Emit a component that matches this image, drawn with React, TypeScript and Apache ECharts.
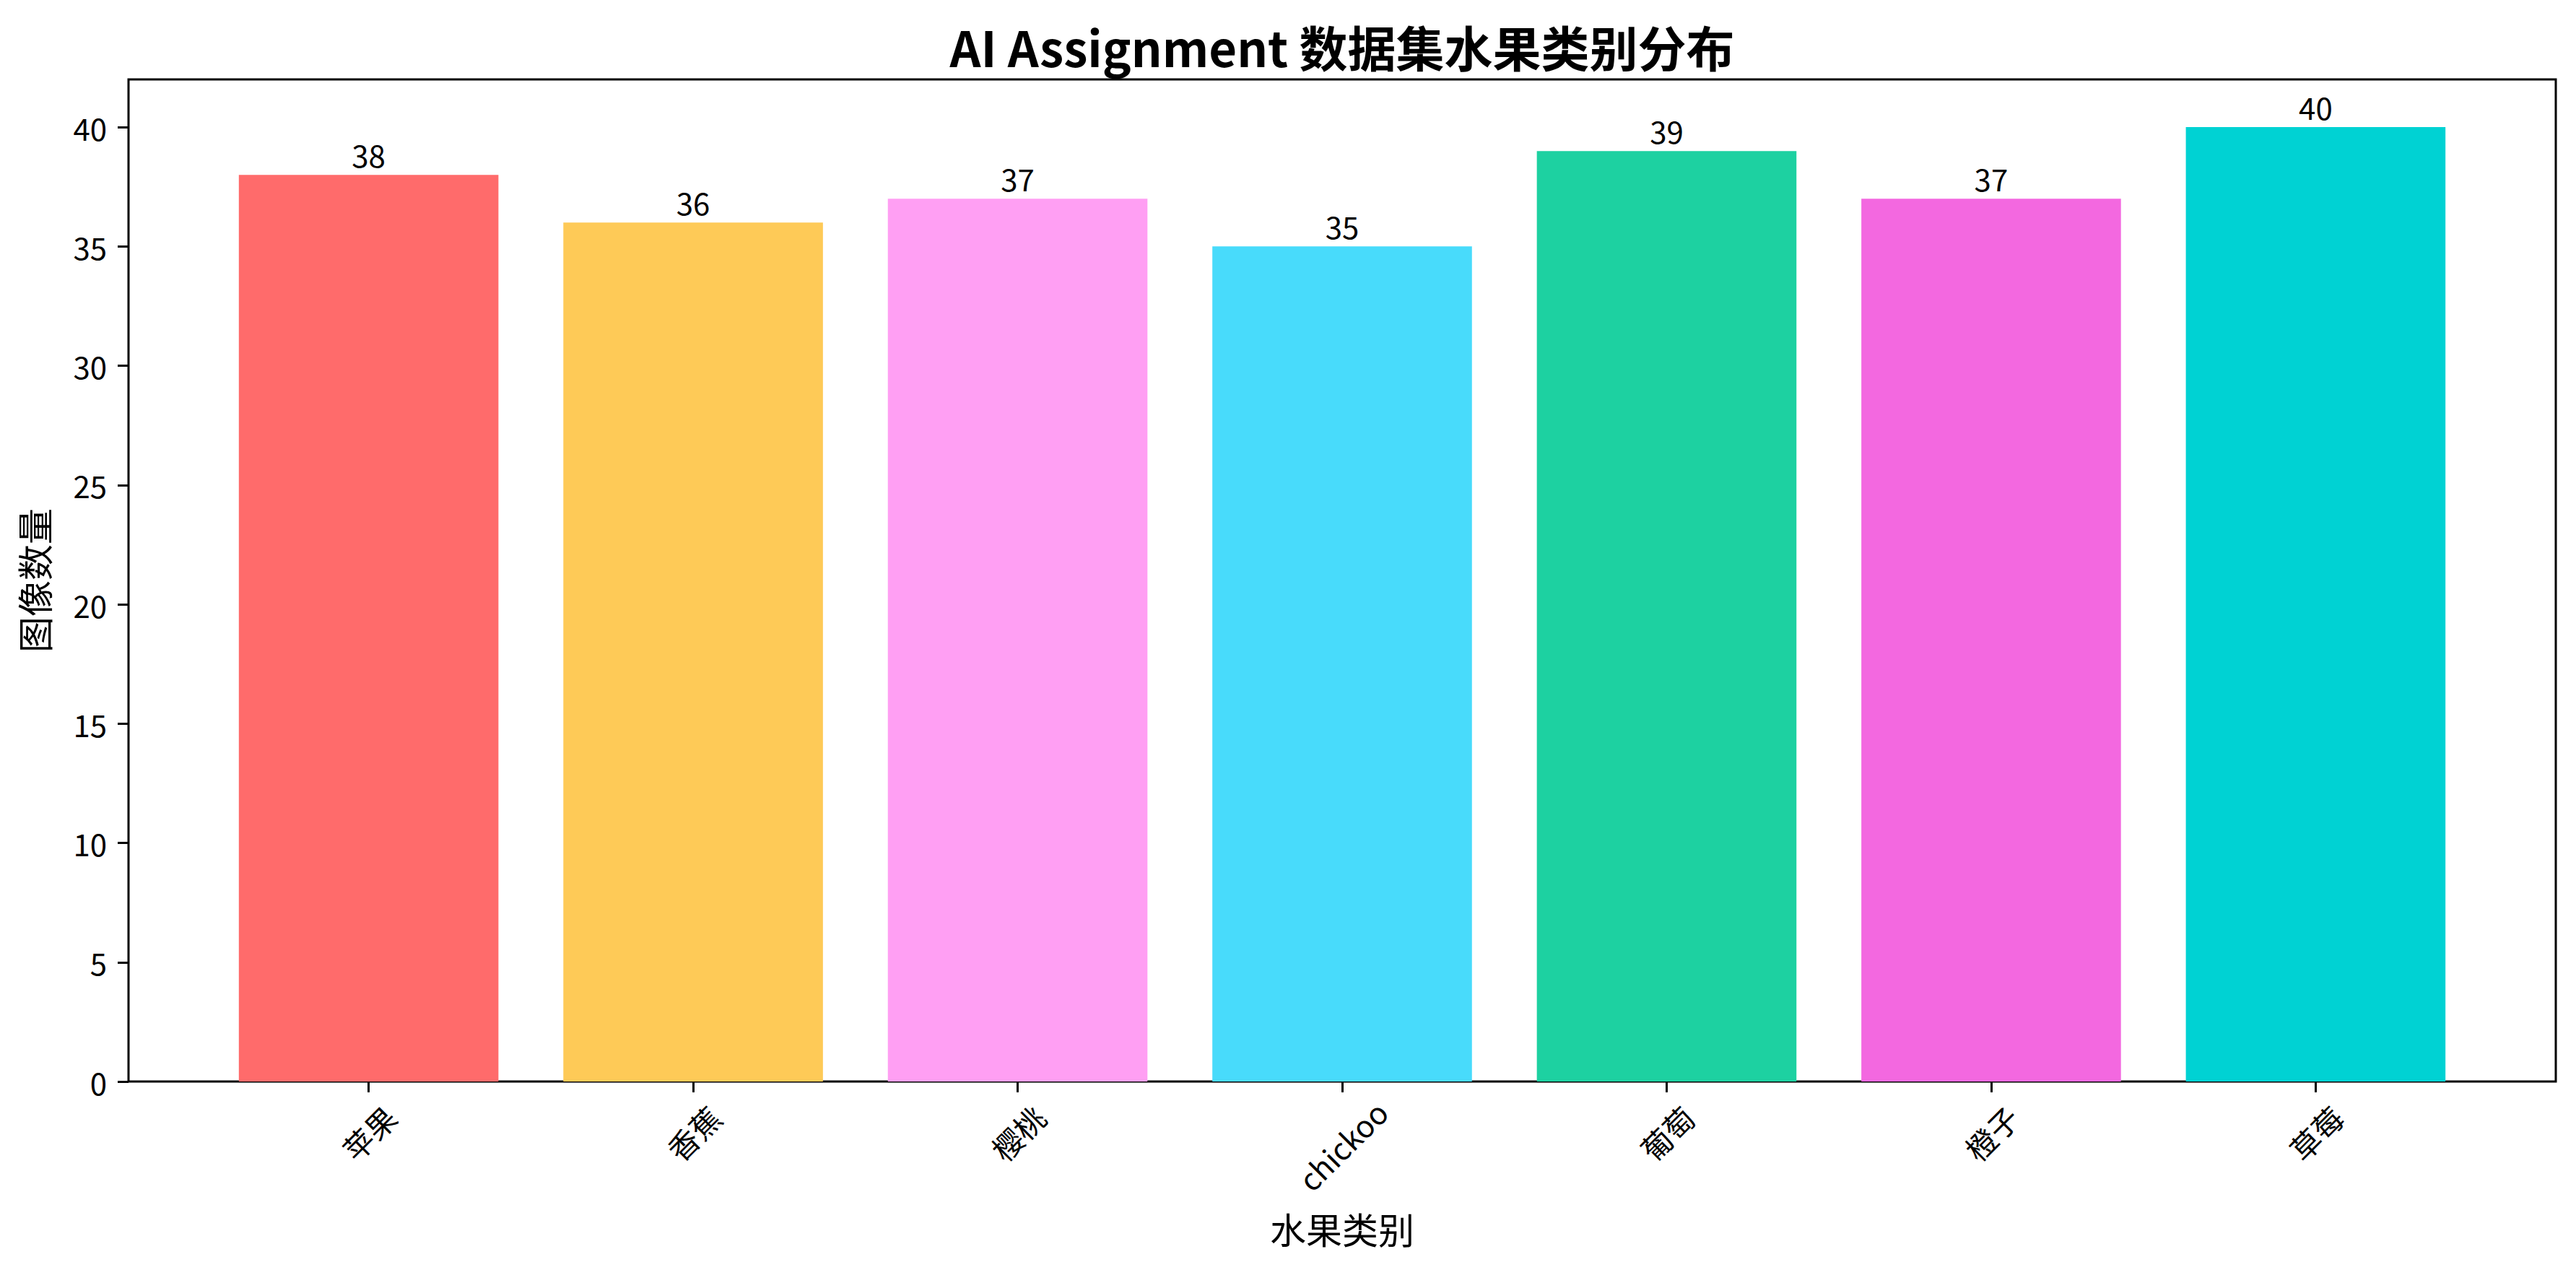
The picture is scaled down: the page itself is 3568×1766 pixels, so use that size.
import * as echarts from 'echarts';
import { useEffect, useRef } from 'react';

const title = 'AI Assignment 数据集水果类别分布';
const xName = '水果类别';
const yName = '图像数量';
const categories = ['苹果', '香蕉', '樱桃', 'chickoo', '葡萄', '橙子', '草莓'];
const counts = [38, 36, 37, 35, 39, 37, 40];
const barColors = ['#FF6B6B', '#FECA57', '#FF9FF3', '#48DBFB', '#1DD1A1', '#F368E0', '#00D2D3'];
const yTicks = [0, 5, 10, 15, 20, 25, 30, 35, 40];
const yMax = 42;
const xMin = -0.74;
const xMax = 6.74;

const font = '"Noto Sans CJK SC", "Noto Sans", sans-serif';
const W = 3568;
const H = 1766;
const grid = { left: 178, right: 28, top: 110, bottom: 268 };

// latin labels rotate into a taller box, so they sit lower than the CJK ones
const isCjk = (s: string) => /[\u4e00-\u9fff]/.test(s);
const xIdx = categories.map((_, i) => i);
const cjkIdx = xIdx.filter((i) => isCjk(categories[i]));
const latinIdx = xIdx.filter((i) => !isCjk(categories[i]));

function labelAxis(values: number[], margin: number, withTicks: boolean) {
  return {
    type: 'value',
    min: xMin,
    max: xMax,
    position: 'bottom',
    axisLine: { show: false, onZero: false },
    splitLine: { show: false },
    axisTick: {
      show: withTicks,
      customValues: xIdx,
      length: 15,
      lineStyle: { color: '#000', width: 3 },
    },
    axisLabel: {
      customValues: values,
      rotate: 45,
      align: 'center',
      verticalAlign: 'middle',
      margin,
      fontSize: 42,
      color: '#000',
      fontFamily: font,
      formatter: (v: number) => categories[Math.round(v)] ?? '',
    },
  };
}

function buildOption() {
  return {
    animation: false,
    color: barColors,
    graphic: [
      {
        type: 'text',
        x: (grid.left + W - grid.right) / 2,
        y: 63,
        style: {
          text: title,
          fontSize: 67,
          fontWeight: 'bold',
          fontFamily: font,
          fill: '#000',
          textAlign: 'center',
          textVerticalAlign: 'middle',
        },
      },
    ],
    grid: {
      ...grid,
      show: true,
      borderColor: '#000',
      borderWidth: 3,
      backgroundColor: '#fff',
      outerBoundsMode: 'none',
    },
    xAxis: [
      {
        ...labelAxis(cjkIdx, 71, true),
        name: xName,
        nameLocation: 'middle',
        nameGap: 178,
        nameMoveOverlap: false,
        nameTextStyle: { fontSize: 50, color: '#000', fontFamily: font },
      },
      labelAxis(latinIdx, 88, false),
    ],
    yAxis: {
      type: 'value',
      min: 0,
      max: yMax,
      interval: 5,
      name: yName,
      nameLocation: 'middle',
      nameGap: 107,
      nameRotate: 90,
      nameMoveOverlap: false,
      nameTextStyle: { fontSize: 50, color: '#000', fontFamily: font },
      axisLine: { show: false, onZero: false },
      splitLine: { show: false },
      axisTick: {
        show: true,
        customValues: yTicks,
        length: 15,
        lineStyle: { color: '#000', width: 3 },
      },
      axisLabel: {
        customValues: yTicks,
        margin: 30,
        fontSize: 42,
        color: '#000',
        fontFamily: font,
      },
    },
    series: [
      {
        type: 'bar',
        xAxisIndex: 0,
        colorBy: 'data',
        barWidth: '80%',
        data: counts.map((v, i) => [i, v]),
        label: {
          show: true,
          position: 'top',
          distance: 8,
          fontSize: 42,
          color: '#000',
          fontFamily: font,
          formatter: (p: { value: number[] }) => String(p.value[1]),
        },
      },
    ],
  };
}

export default function App() {
  const ref = useRef<HTMLDivElement | null>(null);

  useEffect(() => {
    document.body.style.margin = '0';
    document.body.style.overflow = 'hidden';
    if (!ref.current) return;
    const chart = echarts.init(ref.current, null, { renderer: 'svg' });
    chart.setOption(buildOption());
    return () => chart.dispose();
  }, []);

  return <div ref={ref} style={{ width: W, height: H, background: '#fff' }} />;
}
